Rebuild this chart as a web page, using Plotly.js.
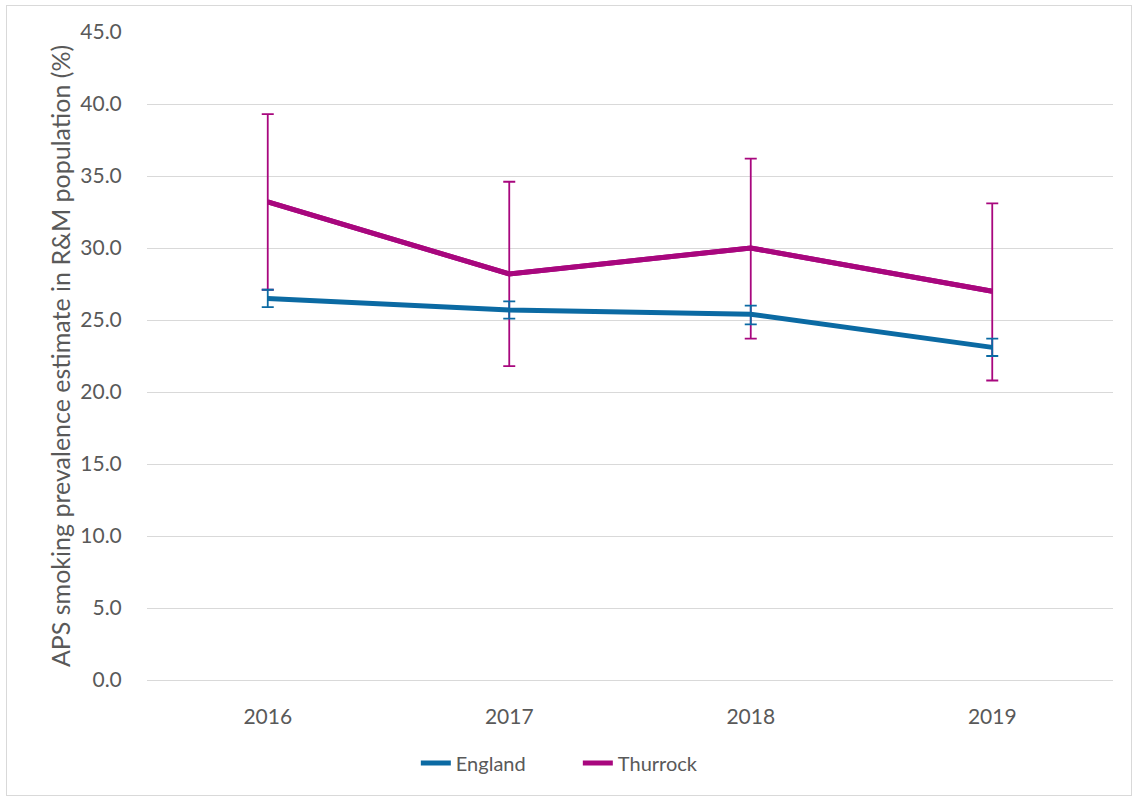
<!DOCTYPE html>
<html>
<head>
<meta charset="utf-8">
<script src="https://cdn.plot.ly/plotly-3.0.1.min.js"></script>
<style>
html,body{margin:0;padding:0;background:#fff;}
#wrap{position:relative;width:1133px;height:798px;}
#chart{position:absolute;left:0;top:0;width:1133px;height:798px;}
#frame{position:absolute;left:6px;top:5px;width:1124px;height:789px;border:1px solid #d9d9d9;pointer-events:none;}
</style>
</head>
<body>
<div id="wrap"><div id="chart"></div><div id="frame"></div></div>
<script>
const years = ['2016', '2017', '2018', '2019'];
const englandValues = [26.5, 25.7, 25.4, 23.1];
const englandUpper = [27.1, 26.3, 26.0, 23.7];
const englandLower = [25.9, 25.1, 24.7, 22.5];
const thurrockValues = [33.2, 28.2, 30.0, 27.0];
const thurrockUpper = [39.3, 34.6, 36.2, 33.1];
const thurrockLower = [27.1, 21.8, 23.7, 20.8];
const yTicks = [0, 5, 10, 15, 20, 25, 30, 35, 40, 45];

function plus(v, u){ return u.map((x,i)=>+(x - v[i]).toFixed(3)); }
function minus(v, l){ return l.map((x,i)=>+(v[i] - x).toFixed(3)); }

const font = 'Lato, "Open Sans", "Liberation Sans", sans-serif';
const grey = '#595959';

const traces = [
  {
    x: years, y: thurrockValues, name: 'Thurrock', type: 'scatter', mode: 'lines',
    line: {color: '#A8077E', width: 5},
    error_y: {type: 'data', symmetric: false, array: plus(thurrockValues, thurrockUpper),
      arrayminus: minus(thurrockValues, thurrockLower), color: '#A8077E', thickness: 1.8, width: 6},
    showlegend: false
  },
  {
    x: years, y: englandValues, name: 'England', type: 'scatter', mode: 'lines',
    line: {color: '#0B6AA3', width: 5},
    error_y: {type: 'data', symmetric: false, array: plus(englandValues, englandUpper),
      arrayminus: minus(englandValues, englandLower), color: '#0B6AA3', thickness: 1.8, width: 6}
  },
  {
    x: years, y: thurrockValues, name: 'Thurrock', type: 'scatter', mode: 'lines',
    line: {color: '#A8077E', width: 5}, hoverinfo: 'skip'
  }
];

const layout = {
  width: 1133, height: 798,
  margin: {l: 147, r: 20, t: 32, b: 118},
  paper_bgcolor: '#fff', plot_bgcolor: '#fff',
  font: {family: font, color: grey, size: 20},
  xaxis: {
    type: 'category', range: [-0.5, 3.5], showgrid: false, zeroline: false,
    showline: false, ticks: 'outside', ticklen: 18, tickcolor: 'rgba(0,0,0,0)',
    tickfont: {size: 21, color: grey}
  },
  yaxis: {
    range: [0, 45], tickvals: yTicks, ticktext: yTicks.map(v => v.toFixed(1)),
    showgrid: true, gridcolor: '#d9d9d9', gridwidth: 1,
    zeroline: true, zerolinecolor: '#d9d9d9', zerolinewidth: 1,
    showline: false, ticks: 'outside', ticklen: 20, tickcolor: 'rgba(0,0,0,0)',
    tickfont: {size: 21, color: grey},
    title: {text: 'APS smoking prevalence estimate in R&M population (%)', font: {size: 25, color: grey}, standoff: 2}
  },
  legend: {
    orientation: 'h', xref: 'container', yref: 'container', x: 0.51, xanchor: 'center',
    y: 0.044, yanchor: 'middle', font: {size: 20, color: grey}, traceorder: 'normal',
    entrywidth: 117, entrywidthmode: 'pixels'
  },
  showlegend: true
};

Plotly.newPlot('chart', traces, layout, {displayModeBar: false, staticPlot: true});
</script>
</body>
</html>
